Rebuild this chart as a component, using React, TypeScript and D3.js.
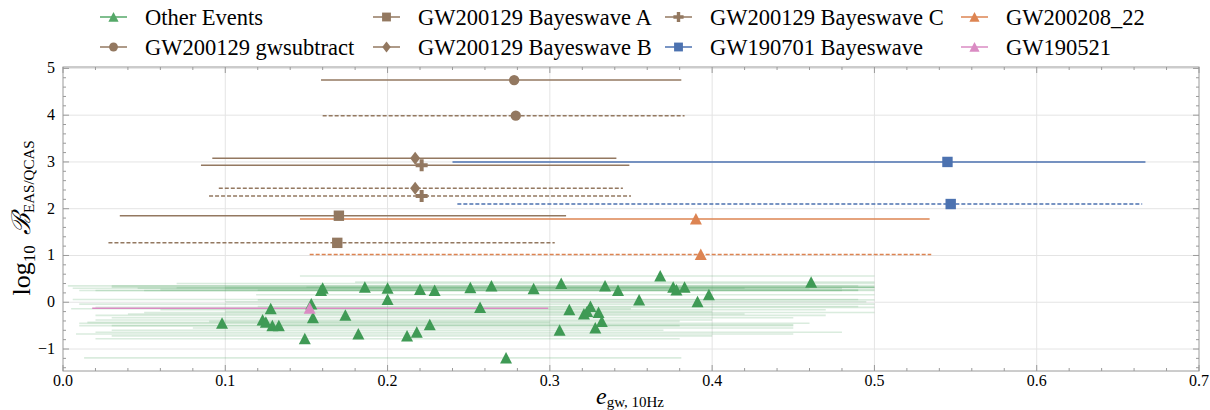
import React, { useEffect, useRef } from 'react';
import * as d3 from 'd3';

// "Other Events": eccentricity estimate, log10 Bayes factor, 90% interval
const otherE = [0.098, 0.123, 0.125, 0.128, 0.129, 0.133, 0.149, 0.153, 0.154, 0.159, 0.160, 0.174, 0.182, 0.186, 0.200, 0.200, 0.212, 0.218, 0.220, 0.226, 0.229, 0.251, 0.257, 0.264, 0.273, 0.290, 0.307, 0.306, 0.312, 0.321, 0.323, 0.325, 0.328, 0.330, 0.332, 0.334, 0.342, 0.355, 0.368, 0.376, 0.378, 0.383, 0.391, 0.398, 0.461];
const otherLogB = [-0.45, -0.38, -0.43, -0.14, -0.50, -0.50, -0.78, -0.04, -0.33, 0.25, 0.30, -0.28, -0.68, 0.32, 0.30, 0.06, -0.72, -0.64, 0.27, -0.48, 0.25, 0.31, -0.11, 0.35, -1.19, 0.29, 0.40, -0.60, -0.16, -0.25, -0.20, -0.09, -0.55, -0.22, -0.41, 0.35, 0.25, 0.05, 0.56, 0.32, 0.26, 0.32, 0.01, 0.16, 0.43];
const otherLo = [0.010, 0.020, 0.015, 0.005, 0.030, 0.010, 0.020, 0.010, 0.030, 0.010, 0.006, 0.020, 0.008, 0.030, 0.046, 0.006, 0.030, 0.020, 0.060, 0.120, 0.020, 0.070, 0.020, 0.003, 0.013, 0.100, 0.070, 0.030, 0.060, 0.040, 0.100, 0.120, 0.080, 0.050, 0.090, 0.030, 0.050, 0.120, 0.146, 0.150, 0.120, 0.100, 0.100, 0.119, 0.180];
const otherHi = [0.460, 0.400, 0.300, 0.350, 0.380, 0.450, 0.380, 0.500, 0.450, 0.500, 0.480, 0.470, 0.450, 0.500, 0.420, 0.490, 0.400, 0.480, 0.500, 0.450, 0.490, 0.500, 0.500, 0.500, 0.381, 0.460, 0.500, 0.370, 0.470, 0.420, 0.400, 0.490, 0.450, 0.500, 0.380, 0.490, 0.480, 0.500, 0.500, 0.500, 0.490, 0.500, 0.495, 0.500, 0.500];

const palette = {
  green: '#55a868',
  brown: '#937860',
  blue: '#4c72b0',
  orange: '#dd8452',
  pink: '#da8bc3',
};

// named events, solid = first analysis, dashed = second
const estimates = [
  { name: 'GW200129 gwsubtract', marker: 'circle', color: palette.brown, dashed: false, e: 0.278, lo: 0.159, hi: 0.381, logB: 4.75 },
  { name: 'GW200129 gwsubtract', marker: 'circle', color: palette.brown, dashed: true, e: 0.279, lo: 0.160, hi: 0.383, logB: 3.99 },
  { name: 'GW200129 Bayeswave B', marker: 'diamond', color: palette.brown, dashed: false, e: 0.217, lo: 0.092, hi: 0.341, logB: 3.08 },
  { name: 'GW200129 Bayeswave C', marker: 'plus', color: palette.brown, dashed: false, e: 0.221, lo: 0.085, hi: 0.349, logB: 2.93 },
  { name: 'GW190701 Bayeswave', marker: 'square', color: palette.blue, dashed: false, e: 0.545, lo: 0.240, hi: 0.667, logB: 3.0 },
  { name: 'GW200129 Bayeswave B', marker: 'diamond', color: palette.brown, dashed: true, e: 0.217, lo: 0.096, hi: 0.345, logB: 2.44 },
  { name: 'GW200129 Bayeswave C', marker: 'plus', color: palette.brown, dashed: true, e: 0.221, lo: 0.090, hi: 0.350, logB: 2.27 },
  { name: 'GW190701 Bayeswave', marker: 'square', color: palette.blue, dashed: true, e: 0.547, lo: 0.243, hi: 0.665, logB: 2.1 },
  { name: 'GW200129 Bayeswave A', marker: 'square', color: palette.brown, dashed: false, e: 0.170, lo: 0.035, hi: 0.310, logB: 1.85 },
  { name: 'GW200208_22', marker: 'triangle', color: palette.orange, dashed: false, e: 0.390, lo: 0.146, hi: 0.534, logB: 1.78 },
  { name: 'GW200129 Bayeswave A', marker: 'square', color: palette.brown, dashed: true, e: 0.169, lo: 0.028, hi: 0.303, logB: 1.27 },
  { name: 'GW200208_22', marker: 'triangle', color: palette.orange, dashed: true, e: 0.393, lo: 0.152, hi: 0.535, logB: 1.02 },
  { name: 'GW190521', marker: 'triangle', color: palette.pink, dashed: false, e: 0.152, lo: 0.018, hi: 0.299, logB: -0.13 },
];

const legendItems = [
  { name: 'Other Events', marker: 'triangle', color: palette.green },
  { name: 'GW200129 gwsubtract', marker: 'circle', color: palette.brown },
  { name: 'GW200129 Bayeswave A', marker: 'square', color: palette.brown },
  { name: 'GW200129 Bayeswave B', marker: 'diamond', color: palette.brown },
  { name: 'GW200129 Bayeswave C', marker: 'plus', color: palette.brown },
  { name: 'GW190701 Bayeswave', marker: 'square', color: palette.blue },
  { name: 'GW200208_22', marker: 'triangle', color: palette.orange },
  { name: 'GW190521', marker: 'triangle', color: palette.pink },
];

const xTicks = [0, 0.1, 0.2, 0.3, 0.4, 0.5, 0.6, 0.7];
const yTicks = [-1, 0, 1, 2, 3, 4, 5];

function markerPath(kind: string) {
  if (kind === 'triangle') return 'M0,-6L6,5.5L-6,5.5Z';
  if (kind === 'square') return 'M-5.2,-5.2h10.4v10.4h-10.4Z';
  if (kind === 'circle') return 'M5.2,0A5.2,5.2 0 1,1 -5.2,0A5.2,5.2 0 1,1 5.2,0Z';
  if (kind === 'diamond') return 'M0,-6.5L5,0L0,6.5L-5,0Z';
  // filled plus
  const r = 6, t = 2;
  return `M${-t},${-r}h${2 * t}v${r - t}h${r - t}v${2 * t}h${-(r - t)}v${r - t}h${-2 * t}v${-(r - t)}h${-(r - t)}v${-2 * t}h${r - t}Z`;
}

const FONT = '"Liberation Serif", "DejaVu Serif", serif';

function App() {
  const ref = useRef<SVGSVGElement>(null);

  useEffect(() => {
    const width = 1210;
    const height = 410;
    const margin = { top: 67, right: 11, bottom: 39, left: 63 };
    const innerW = width - margin.left - margin.right;
    const innerH = height - margin.top - margin.bottom;

    const root = d3.select(ref.current);
    root.selectAll('*').remove();
    root.attr('width', width).attr('height', height);

    const x = d3.scaleLinear().domain([0, 0.7]).range([0, innerW]);
    const y = d3.scaleLinear().domain([-1.47, 5.03]).range([innerH, 0]);

    const g = root.append('g').attr('transform', `translate(${margin.left},${margin.top})`);

    // grid
    g.selectAll('.gx')
      .data(xTicks.slice(1, -1))
      .enter()
      .append('line')
      .attr('x1', (d) => x(d))
      .attr('x2', (d) => x(d))
      .attr('y1', 0)
      .attr('y2', innerH)
      .attr('stroke', '#e4e4e4')
      .attr('stroke-width', 1);
    g.selectAll('.gy')
      .data(yTicks)
      .enter()
      .append('line')
      .attr('x1', 0)
      .attr('x2', innerW)
      .attr('y1', (d) => y(d))
      .attr('y2', (d) => y(d))
      .attr('stroke', '#e4e4e4')
      .attr('stroke-width', 1);

    // other events: intervals then markers
    g.selectAll('.oe-line')
      .data(otherE)
      .enter()
      .append('line')
      .attr('x1', (d, i) => x(otherLo[i]))
      .attr('x2', (d, i) => x(otherHi[i]))
      .attr('y1', (d, i) => y(otherLogB[i]))
      .attr('y2', (d, i) => y(otherLogB[i]))
      .attr('stroke', palette.green)
      .attr('stroke-opacity', 0.22)
      .attr('stroke-width', 1.6);

    g.selectAll('.est-line')
      .data(estimates)
      .enter()
      .append('line')
      .attr('x1', (d) => x(d.lo))
      .attr('x2', (d) => x(d.hi))
      .attr('y1', (d) => y(d.logB))
      .attr('y2', (d) => y(d.logB))
      .attr('stroke', (d) => d.color)
      .attr('stroke-width', 1.5)
      .attr('stroke-dasharray', (d) => (d.dashed ? '4,2' : null));

    g.selectAll('.oe-mark')
      .data(otherE)
      .enter()
      .append('path')
      .attr('d', markerPath('triangle'))
      .attr('transform', (d, i) => `translate(${x(d)},${y(otherLogB[i])})`)
      .attr('fill', '#3f9a55');

    g.selectAll('.est-mark')
      .data(estimates)
      .enter()
      .append('path')
      .attr('d', (d) => markerPath(d.marker))
      .attr('transform', (d) => `translate(${x(d.e)},${y(d.logB)})`)
      .attr('fill', (d) => d.color);

    // frame and inward ticks on all sides
    const axisColor = '#9a9a9a';
    g.append('rect')
      .attr('width', innerW)
      .attr('height', innerH)
      .attr('fill', 'none')
      .attr('stroke', axisColor)
      .attr('stroke-width', 1);

    const xMinor = d3.range(0, 0.7001, 0.02);
    const yMinor = d3.range(-1.4, 5.001, 0.2);
    [0, innerH].forEach((yy, side) => {
      const dir = side === 0 ? 1 : -1;
      xMinor.forEach((v) => {
        const major = Math.abs(v * 10 - Math.round(v * 10)) < 1e-6;
        g.append('line')
          .attr('x1', x(v))
          .attr('x2', x(v))
          .attr('y1', yy)
          .attr('y2', yy + dir * (major ? 6 : 3))
          .attr('stroke', axisColor);
      });
    });
    [0, innerW].forEach((xx, side) => {
      const dir = side === 0 ? 1 : -1;
      yMinor.forEach((v) => {
        const major = Math.abs(v - Math.round(v)) < 1e-6;
        g.append('line')
          .attr('x1', xx)
          .attr('x2', xx + dir * (major ? 6 : 3))
          .attr('y1', y(v))
          .attr('y2', y(v))
          .attr('stroke', axisColor);
      });
    });

    g.selectAll('.xt')
      .data(xTicks)
      .enter()
      .append('text')
      .attr('x', (d) => x(d))
      .attr('y', innerH + 15)
      .attr('text-anchor', 'middle')
      .attr('font-family', FONT)
      .attr('font-size', 16)
      .text((d) => d.toFixed(1));

    g.selectAll('.yt')
      .data(yTicks)
      .enter()
      .append('text')
      .attr('x', -8)
      .attr('y', (d) => y(d) + 5)
      .attr('text-anchor', 'end')
      .attr('font-family', FONT)
      .attr('font-size', 16)
      .text((d) => (d < 0 ? '\u2212' + Math.abs(d) : String(d)));

    // axis labels
    const xl = root
      .append('text')
      .attr('x', 630)
      .attr('y', 404)
      .attr('text-anchor', 'middle')
      .attr('font-family', FONT);
    xl.append('tspan').attr('font-size', 24).attr('font-style', 'italic').text('e');
    xl.append('tspan').attr('font-size', 15).attr('dy', 3).text('gw, 10Hz');

    const yl = root
      .append('text')
      .attr('transform', 'translate(30,218) rotate(-90)')
      .attr('text-anchor', 'middle')
      .attr('font-family', FONT);
    yl.append('tspan').attr('font-size', 26).text('log');
    yl.append('tspan').attr('font-size', 17).attr('dy', 5).text('10');
    yl.append('tspan').attr('font-size', 26).attr('dy', -5).text('\u2009\u2009');
    yl.append('tspan').attr('font-size', 26).attr('font-style', 'italic').text('\u212C');
    yl.append('tspan').attr('font-size', 15).attr('dy', 4).text('EAS/QCAS');

    // legend, 2 rows x 4 columns
    const colX = [100, 373, 665, 961];
    const rowY = [17, 47];
    legendItems.forEach((item, i) => {
      const col = Math.floor(i / 2);
      const row = i % 2;
      const lg = root.append('g').attr('transform', `translate(${colX[col]},${rowY[row]})`);
      lg.append('line')
        .attr('x1', 0)
        .attr('x2', 27)
        .attr('stroke', item.color)
        .attr('stroke-width', 1.5);
      lg.append('path')
        .attr('d', markerPath(item.marker))
        .attr('transform', 'translate(13.5,0) scale(0.85)')
        .attr('fill', item.color);
      lg.append('text')
        .attr('x', 45)
        .attr('y', 7.5)
        .attr('font-family', FONT)
        .attr('font-size', 22.5)
        .text(item.name);
    });
  }, []);

  return (
    <div style={{ position: 'absolute', left: 0, top: 0 }}>
      <svg ref={ref} style={{ display: 'block', background: '#fff' }}></svg>
    </div>
  );
}

export default App;
